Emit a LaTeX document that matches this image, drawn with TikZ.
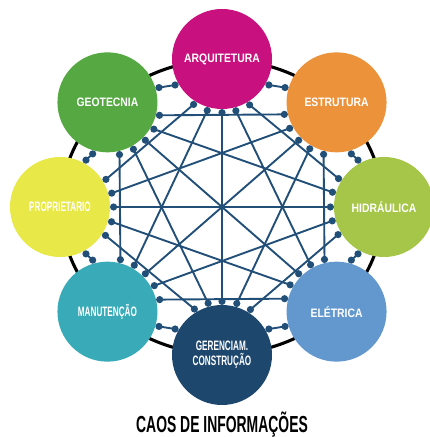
\documentclass[tikz,border=0pt]{standalone}
\usepackage{fontspec}
\setmainfont{Liberation Sans}
\newfontfamily\narrowfont[FakeStretch=0.85]{Liberation Sans}
\newfontfamily\condfont[FakeStretch=0.6]{Liberation Sans}
\definecolor{arqcolor}{HTML}{C8107E}
\definecolor{estcolor}{HTML}{EC923A}
\definecolor{hidcolor}{HTML}{A5C648}
\definecolor{elecolor}{HTML}{6398CE}
\definecolor{gercolor}{HTML}{1E476E}
\definecolor{mancolor}{HTML}{39ABB8}
\definecolor{procolor}{HTML}{E8E848}
\definecolor{geocolor}{HTML}{55A842}
\definecolor{linkblue}{HTML}{214F78}
\tikzset{
  area/.style = {circle, minimum size=2.5cm, inner sep=0pt,
    outer sep=0.09cm, text=white,
    font=\narrowfont\bfseries\fontsize{8.7}{10}\selectfont},
  condensed/.style = {font=\condfont\bfseries\fontsize{9.7}{10.6}\selectfont},
}

\begin{document}
\begin{tikzpicture}[
    link/.style={draw=linkblue, line width=1.35pt},
    linkdot/.style={fill=linkblue},
    ]
    \useasboundingbox (-5.55,-5.75) rectangle (5.175,5.175);
    \draw[line width=2.2pt] (0,0) ellipse (4.03cm and 3.68cm);
    \node[area, fill=arqcolor] (n0) at (90:4.05cm and 3.7cm) {ARQUITETURA};
    \node[area, fill=estcolor] (n1) at (45:4.05cm and 3.7cm) {ESTRUTURA};
    \node[area, fill=hidcolor] (n2) at (0:4.05cm and 3.7cm) {HIDRÁULICA};
    \node[area, fill=elecolor] (n3) at (-45:4.05cm and 3.7cm) {ELÉTRICA};
    \node[area, condensed, align=center, fill=gercolor] (n4)
      at (-90:4.05cm and 3.7cm) {GERENCIAM.\\CONSTRUÇÃO};
    \node[area, condensed, fill=mancolor] (n5) at (-135:4.05cm and 3.7cm) {MANUTENÇÃO};
    \node[area, condensed, fill=procolor] (n6) at (180:4.05cm and 3.7cm) {PROPRIETARIO};
    \node[area, fill=geocolor] (n7) at (135:4.05cm and 3.7cm) {GEOTECNIA};
    % every area linked to every other one
    \foreach \k in {0,...,7}{
      \foreach \s in {1,...,7}{
        \pgfmathtruncatemacro\j{mod(\k+\s,8)}
        \pgfmathsetmacro\g{ifthenelse(\s==1,61,ifthenelse(\s==7,-61,0.7*(90-22.5*\s)))}
        \pgfmathsetmacro\a{mod(630-45*\k+\g,360)}
        \pgfmathsetmacro\b{mod(630-45*\j-\g,360)}
        \ifnum\k<\j\relax
          \draw[link] (n\k.\a) -- (n\j.\b);
        \fi
        \fill[linkdot] (n\k.\a) circle (0.09cm);
      }
    }
    \node[anchor=base, font=\condfont\bfseries\fontsize{16.5}{18}\selectfont]
      (title) at (0,-5.63) {CAOS DE INFORMAÇÕES};
\end{tikzpicture}
\end{document}
